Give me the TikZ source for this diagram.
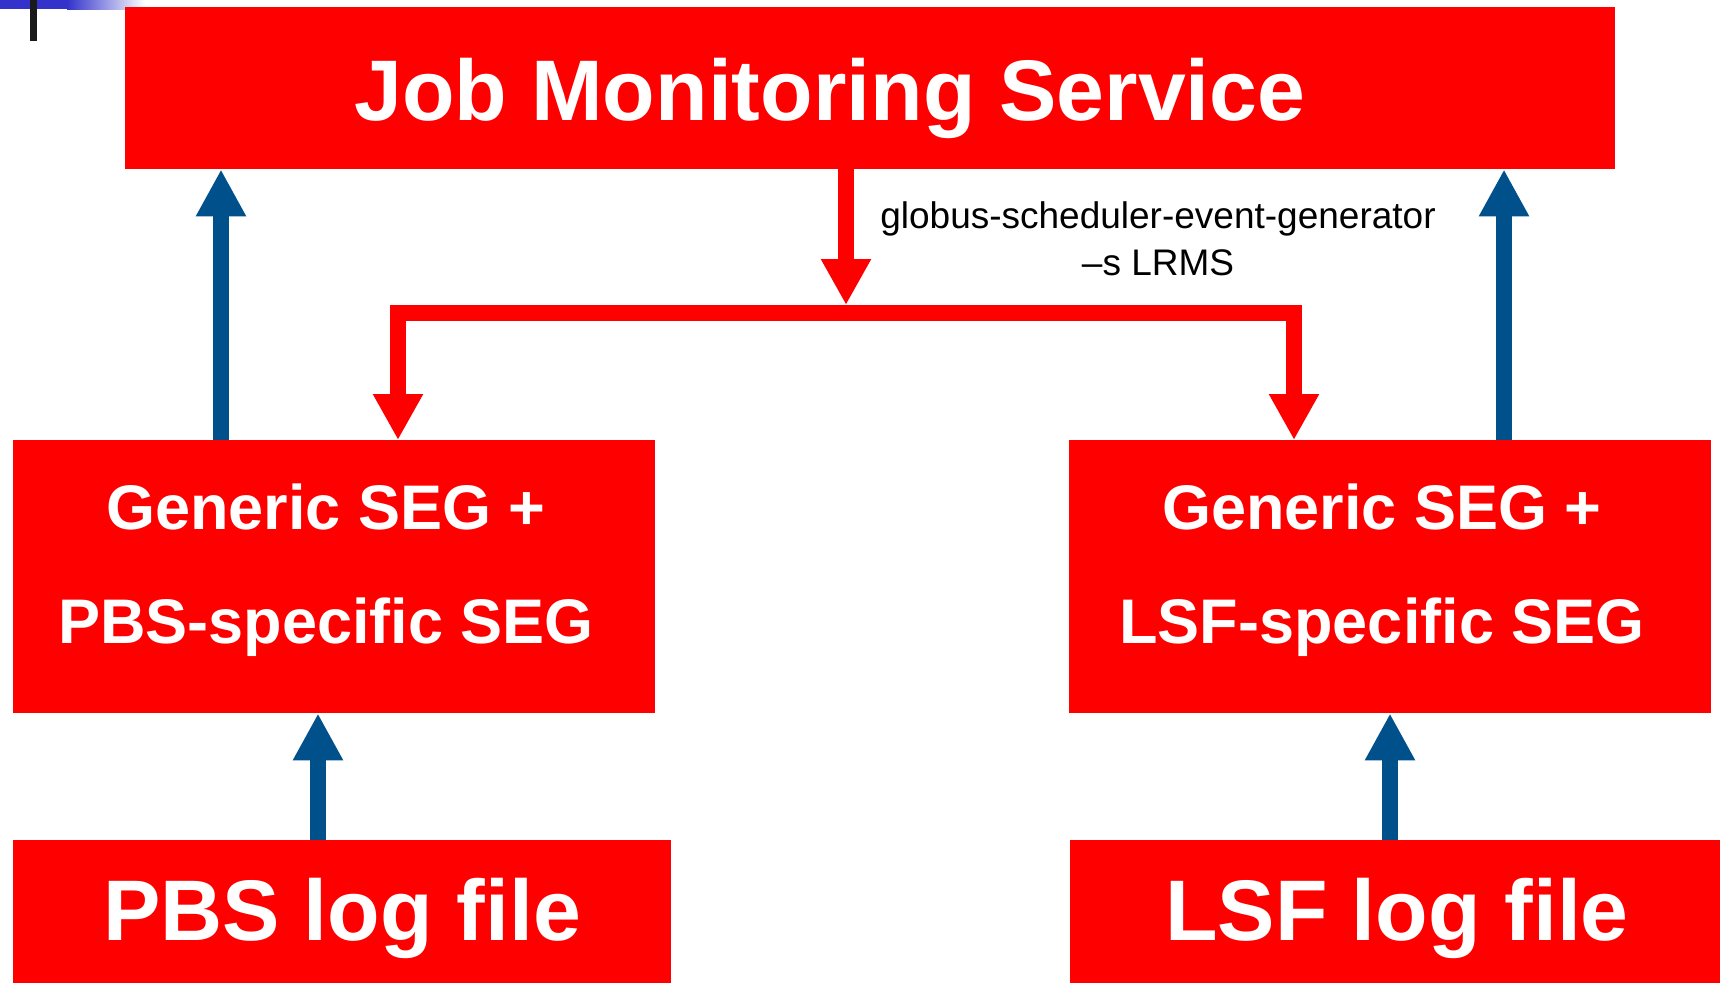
\documentclass[tikz,border=0pt]{standalone}
\usepackage{fontspec}
\setmainfont{Liberation Sans}
\usetikzlibrary{arrows.meta}
\definecolor{boxred}{RGB}{255,0,0}
\definecolor{arrowblue}{RGB}{0,80,140}
\definecolor{barblue}{RGB}{51,51,204}
\definecolor{barblack}{RGB}{26,26,26}
\begin{document}
\begin{tikzpicture}[x=1pt,y=-1pt,
  box/.style={fill=boxred, draw=none, inner sep=0pt, anchor=north west},
  bigtext/.style={text=white, font=\fontsize{86}{100}\selectfont\bfseries, inner sep=0pt, anchor=base},
  segtext/.style={text=white, font=\fontsize{63}{114}\selectfont\bfseries, align=center, inner sep=0pt, anchor=base},
  labeltext/.style={text=black, font=\fontsize{37}{47}\selectfont, align=center, inner sep=0pt, anchor=base},
  blueup/.style={draw=arrowblue, line width=16pt, -{Triangle[width=47pt,length=47pt]}},
  reddown/.style={draw=boxred, line width=16pt, -{Triangle[width=47pt,length=46pt]}},
]
\useasboundingbox (0,0) rectangle (1720,983);
% corner decoration
\fill[barblue] (0,0) rectangle (67,9);
\shade[left color=barblue, right color=white] (67,0) rectangle (145,9);
\fill[barblack] (30,0) rectangle (37,41);

% boxes
\node[box, minimum width=1490pt, minimum height=162pt] (jms) at (125,7) {};
\node[box, minimum width=642pt, minimum height=273pt] (segL) at (13,440) {};
\node[box, minimum width=642pt, minimum height=273pt] (segR) at (1069,440) {};
\node[box, minimum width=658pt, minimum height=143pt] (pbs) at (13,840) {};
\node[box, minimum width=650pt, minimum height=143pt] (lsf) at (1070,840) {};

% texts (base anchor = baseline of the last line)
\node[bigtext] (jmst) at (830,120) {Job Monitoring Service};
\node[segtext] (segLt) at (326,643) {Generic SEG +\\PBS-specific SEG};
\node[segtext] (segRt) at (1382,643) {Generic SEG +\\LSF-specific SEG};
\node[bigtext] (pbst) at (342,940) {PBS log file};
\node[bigtext] (lsft) at (1397,940) {LSF log file};
\node[labeltext] (lbl) at (1158,275) {globus-scheduler-event-generator\\–s LRMS};

% connector coordinates
\coordinate (xm) at (846,0);
\coordinate (junc) at (846,305);
\coordinate (bar) at (846,312.5);
\coordinate (xa) at (398,0);
\coordinate (xb) at (1294,0);
\coordinate (xl) at (221,0);
\coordinate (xr) at (1504,0);
\coordinate (xpl) at (318,0);
\coordinate (xpr) at (1390,0);

% red connectors
\draw[reddown] (jms.south -| xm) -- (junc);
\draw[reddown] (bar) -| (segL.north -| xa);
\draw[reddown] (bar) -| (segR.north -| xb);

% blue connectors
\draw[blueup] (segL.north -| xl) -- (jms.south -| xl);
\draw[blueup] (segR.north -| xr) -- (jms.south -| xr);
\draw[blueup] (pbs.north -| xpl) -- (segL.south -| xpl);
\draw[blueup] (lsf.north -| xpr) -- (segR.south -| xpr);
\end{tikzpicture}
\end{document}
